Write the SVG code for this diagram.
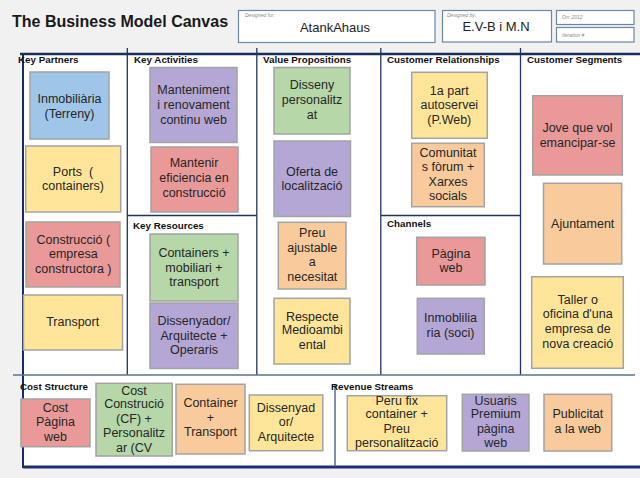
<svg xmlns="http://www.w3.org/2000/svg" width="640" height="478" viewBox="0 0 640 478">
<style>
  text { font-family: "Liberation Sans", Arial, sans-serif; }
  .n { stroke: #a3a3a3; stroke-width: 1.5; }
  .blue { fill: #9fc5e8; }
  .yel { fill: #ffe599; }
  .red { fill: #ea9999; }
  .pur { fill: #b4a7d6; }
  .grn { fill: #b6d7a8; }
  .org { fill: #f9cb9c; }
  .t { font-size: 12.5px; fill: #262626; text-anchor: middle; }
  .lbl { font-size: 9.8px; font-weight: bold; fill: #111; }
  .hb { fill: #fff; stroke: #6d87a6; stroke-width: 1.2; }
  .tiny { font-size: 5px; font-style: italic; fill: #8a8a8a; }
  .hv { font-size: 13px; fill: #222; text-anchor: middle; }
  .div { stroke: #1f3560; stroke-width: 1.3; fill: none; }
</style>
<rect x="0" y="0" width="640" height="478" fill="#f1f1f1"/>
<rect x="23" y="54" width="617" height="413" fill="#ffffff"/>

<g id="header">
  <text x="12" y="27" font-size="16" font-weight="bold" fill="#1a1a1a">The Business Model Canvas</text>
  <rect class="hb" x="238.5" y="10.5" width="196.5" height="32"/>
  <text class="tiny" x="245" y="17">Designed for:</text>
  <text class="hv" x="335" y="31.5">AtankAhaus</text>
  <rect class="hb" x="442.5" y="10.5" width="109" height="31.5"/>
  <text class="tiny" x="447" y="17">Designed by:</text>
  <text class="hv" x="496" y="30.5">E.V-B i M.N</text>
  <rect class="hb" x="556.5" y="10.5" width="77.5" height="14"/>
  <text class="tiny" x="562" y="19">On: 2012</text>
  <rect class="hb" x="556.5" y="27.5" width="77.5" height="14.5"/>
  <text class="tiny" x="562" y="36.5">Iteration #</text>
</g>

<g id="connectors">
  <line x1="20" y1="54" x2="640" y2="54" stroke="#1a2e5a" stroke-width="2.5"/>
  <line x1="23" y1="54" x2="23" y2="468" stroke="#1a2e5a" stroke-width="2"/>
  <line x1="23" y1="467" x2="640" y2="467" stroke="#1c2e6e" stroke-width="3"/>
  <line class="div" x1="127.3" y1="48" x2="127.3" y2="375"/>
  <line class="div" x1="256.8" y1="48" x2="256.8" y2="375"/>
  <line class="div" x1="380.8" y1="48" x2="380.8" y2="375"/>
  <line class="div" x1="520.5" y1="48" x2="520.5" y2="375"/>
  <line class="div" x1="127.3" y1="215.5" x2="256.8" y2="215.5"/>
  <line class="div" x1="380.8" y1="215.5" x2="520.5" y2="215.5"/>
  <line x1="13" y1="375" x2="635" y2="375" stroke="#5a7590" stroke-width="1.5"/>
  <line x1="335" y1="385" x2="335" y2="467" stroke="#3d5678" stroke-width="1.3"/>
</g>

<g id="labels">
  <text class="lbl" x="18" y="63">Key Partners</text>
  <text class="lbl" x="134" y="63">Key Activities</text>
  <text class="lbl" x="263" y="63">Value Propositions</text>
  <text class="lbl" x="387" y="63">Customer Relationships</text>
  <text class="lbl" x="527" y="63" font-size="10.5">Customer Segments</text>
  <text class="lbl" x="133" y="228.5">Key Resources</text>
  <text class="lbl" x="387" y="227">Channels</text>
  <text class="lbl" x="20" y="389.5">Cost Structure</text>
  <text class="lbl" x="331" y="389.5">Revenue Streams</text>
</g>

<g id="kp1"><rect class="n blue" x="30" y="72" width="79" height="67"/>
  <text class="t"><tspan x="69.5" y="102.7">Inmobiliària</tspan><tspan x="69.5" y="117.7">(Terreny)</tspan></text></g>
<g id="kp2"><rect class="n yel" x="25.7" y="146" width="95" height="66"/>
  <text class="t" xml:space="preserve"><tspan x="73" y="176">Ports  (</tspan><tspan x="73" y="190">containers)</tspan></text></g>
<g id="kp3"><rect class="n red" x="26" y="222" width="94" height="65"/>
  <text class="t"><tspan x="73.3" y="244.3">Construcció (</tspan><tspan x="73.3" y="258.3">empresa</tspan><tspan x="73.3" y="273.3">constructora )</tspan></text></g>
<g id="kp4"><rect class="n yel" x="23.5" y="295" width="99" height="55"/>
  <text class="t"><tspan x="72.7" y="326">Transport</tspan></text></g>

<g id="ka1"><rect class="n pur" x="150" y="67.5" width="87" height="75"/>
  <text class="t"><tspan x="193.5" y="94.3">Manteniment</tspan><tspan x="193.5" y="109.3">i renovament</tspan><tspan x="193.5" y="124">continu web</tspan></text></g>
<g id="ka2"><rect class="n red" x="151" y="147" width="87" height="65"/>
  <text class="t"><tspan x="194" y="167.3">Mantenir</tspan><tspan x="194" y="182.3">eficiencia en</tspan><tspan x="194" y="196.7">construcció</tspan></text></g>
<g id="kr1"><rect class="n grn" x="150" y="234" width="88" height="67"/>
  <text class="t"><tspan x="194" y="256.7">Containers +</tspan><tspan x="194" y="271.7">mobiliari +</tspan><tspan x="194" y="286">transport</tspan></text></g>
<g id="kr2"><rect class="n pur" x="150" y="303" width="88" height="65.5"/>
  <text class="t"><tspan x="194" y="325">Dissenyador/</tspan><tspan x="194" y="340">Arquitecte +</tspan><tspan x="194" y="354">Operaris</tspan></text></g>

<g id="vp1"><rect class="n grn" x="274" y="67.5" width="76" height="66.5"/>
  <text class="t"><tspan x="312" y="89.3">Disseny</tspan><tspan x="312" y="104.3">personalitz</tspan><tspan x="312" y="119">at</tspan></text></g>
<g id="vp2"><rect class="n pur" x="274" y="141" width="76.5" height="75.5"/>
  <text class="t"><tspan x="312" y="176">Oferta de</tspan><tspan x="312" y="190">localització</tspan></text></g>
<g id="vp3"><rect class="n org" x="278.3" y="222.3" width="67.7" height="66.7"/>
  <text class="t"><tspan x="312.3" y="237.3">Preu</tspan><tspan x="312.3" y="251.7">ajustable</tspan><tspan x="312.3" y="266">a</tspan><tspan x="312.3" y="280.7">necesitat</tspan></text></g>
<g id="vp4"><rect class="n yel" x="274" y="298.3" width="76" height="65.7"/>
  <text class="t"><tspan x="312.3" y="320.7">Respecte</tspan><tspan x="312.3" y="334.3">Medioambi</tspan><tspan x="312.3" y="349">ental</tspan></text></g>

<g id="cr1"><rect class="n yel" x="411.7" y="72.3" width="75.6" height="66"/>
  <text class="t"><tspan x="449.3" y="95">1a part</tspan><tspan x="449.3" y="109.3">autoservei</tspan><tspan x="449.3" y="124">(P.Web)</tspan></text></g>
<g id="cr2"><rect class="n org" x="411.7" y="143.3" width="72.6" height="63.4"/>
  <text class="t"><tspan x="448" y="156.7">Comunitat</tspan><tspan x="448" y="171">s fòrum +</tspan><tspan x="448" y="186">Xarxes</tspan><tspan x="448" y="200">socials</tspan></text></g>
<g id="ch1"><rect class="n red" x="416.7" y="237.3" width="68.3" height="47.7"/>
  <text class="t"><tspan x="451" y="257.7">Pàgina</tspan><tspan x="451" y="272.3">web</tspan></text></g>
<g id="ch2"><rect class="n pur" x="417.3" y="298.3" width="67" height="55.7"/>
  <text class="t"><tspan x="450.5" y="322.3">Inmoblilia</tspan><tspan x="450.5" y="337.3">ria (soci)</tspan></text></g>

<g id="cs1"><rect class="n red" x="532.7" y="95.7" width="89.6" height="79.3"/>
  <text class="t"><tspan x="577.5" y="132.3">Jove que vol</tspan><tspan x="577.5" y="146.7">emancipar-se</tspan></text></g>
<g id="cs2"><rect class="n org" x="543.5" y="183.3" width="78.2" height="80.7"/>
  <text class="t"><tspan x="582.7" y="228.3">Ajuntament</tspan></text></g>
<g id="cs3"><rect class="n yel" x="531.7" y="276.7" width="91.6" height="91.6"/>
  <text class="t"><tspan x="577.7" y="304">Taller o</tspan><tspan x="577.7" y="318.3">oficina d'una</tspan><tspan x="577.7" y="333.3">empresa de</tspan><tspan x="577.7" y="347.7">nova creació</tspan></text></g>

<g id="c1"><rect class="n red" x="21" y="399" width="69" height="47.7"/>
  <text class="t"><tspan x="55.5" y="411.7">Cost</tspan><tspan x="55.5" y="426">Pàgina</tspan><tspan x="55.5" y="441">web</tspan></text></g>
<g id="c2"><rect class="n grn" x="96" y="383.3" width="76.3" height="72.7"/>
  <text class="t"><tspan x="134" y="395">Cost</tspan><tspan x="134" y="408.3">Construció</tspan><tspan x="134" y="422.7">(CF) +</tspan><tspan x="134" y="436.7">Personalitz</tspan><tspan x="134" y="451.7">ar (CV</tspan></text></g>
<g id="c3"><rect class="n org" x="176" y="384.3" width="69" height="69.7"/>
  <text class="t"><tspan x="210.5" y="407.3">Container</tspan><tspan x="210.5" y="421.7">+</tspan><tspan x="210.5" y="436">Transport</tspan></text></g>
<g id="c4"><rect class="n yel" x="249.3" y="395" width="73.5" height="55.7"/>
  <text class="t"><tspan x="286" y="411.7">Dissenyad</tspan><tspan x="286" y="426">or/</tspan><tspan x="286" y="440.7">Arquitecte</tspan></text></g>

<g id="r1"><rect class="n yel" x="347.3" y="395.7" width="99.4" height="55"/>
  <text class="t"><tspan x="396.7" y="405">Peru fix</tspan><tspan x="396.7" y="418.3">container +</tspan><tspan x="396.7" y="433.3">Preu</tspan><tspan x="396.7" y="447.3">personalització</tspan></text></g>
<g id="r2"><rect class="n pur" x="462.3" y="394.3" width="66.7" height="56.7"/>
  <text class="t"><tspan x="495.7" y="405">Usuaris</tspan><tspan x="495.7" y="418.3">Premium</tspan><tspan x="495.7" y="433.3">pàgina</tspan><tspan x="495.7" y="447.3">web</tspan></text></g>
<g id="r3"><rect class="n org" x="544" y="394.3" width="67.7" height="56.7"/>
  <text class="t"><tspan x="577.8" y="418.3">Publicitat</tspan><tspan x="577.8" y="433.3">a la web</tspan></text></g>
</svg>
